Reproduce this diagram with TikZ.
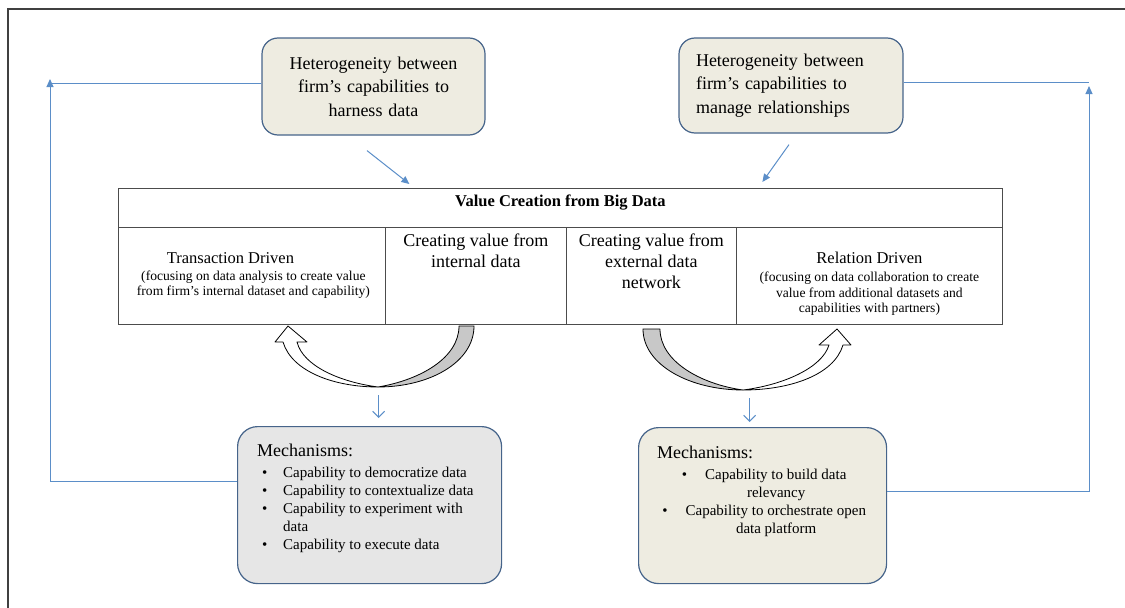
\documentclass[tikz,border=0pt]{standalone}
\usepackage{fontspec}
\setmainfont{Liberation Serif}
\usetikzlibrary{arrows.meta}

\definecolor{boxline}{RGB}{70,100,138}
\definecolor{hetfill}{RGB}{238,236,225}
\definecolor{mechgrey}{RGB}{230,230,230}
\definecolor{flowblue}{RGB}{91,142,200}
\definecolor{bandgrey}{RGB}{200,200,200}

\begin{document}
\begin{tikzpicture}[x=1pt,y=-1pt,
  hetbox/.style={draw=boxline,fill=hetfill,rounded corners=16pt,line width=1.2pt,
    inner sep=0pt,text width=190pt,font=\fontsize{18}{23.5}\selectfont},
  mechbox/.style={draw=boxline,rounded corners=20pt,line width=1.2pt,inner sep=0pt,anchor=north west},
  cell/.style={draw=black!70,line width=0.8pt,inner sep=0pt,anchor=north west},
  celltxt/.style={inner sep=0pt,anchor=north,align=center},
  link/.style={draw=flowblue,line width=1pt},
  solidhead/.style={-{Triangle[length=8pt,width=7pt]}},
  openhead/.style={-{Straight Barb[length=6pt,width=12pt]}},
  band/.style={draw=black,line width=0.8pt,line join=round}]
\useasboundingbox (0,0) rectangle (1125,608);

%Shape: Frame
\draw [line width=1.2pt,black!75] (8,608) -- (8,9) -- (1125,9) ;

%Shape: Rounded Rect [heterogeneity, data]
\node [hetbox,align=center,minimum width=223pt,minimum height=97pt] (hetL) at (373.5,86.5)
  {Heterogeneity between\\firm’s capabilities to\\harness data};
%Shape: Rounded Rect [heterogeneity, relationships]
\node [hetbox,align=left,minimum width=224pt,minimum height=95pt] (hetR) at (791,85.5)
  {Heterogeneity between\\firm’s capabilities to\\manage relationships};

%Shape: Table
\node [cell,minimum width=884pt,minimum height=39pt] (vcb) at (118,188) {};
\node [cell,minimum width=267pt,minimum height=97pt] (c1) at (118,227) {};
\node [cell,minimum width=181pt,minimum height=97pt] (c2) at (385,227) {};
\node [cell,minimum width=170pt,minimum height=97pt] (c3) at (566,227) {};
\node [cell,minimum width=266pt,minimum height=97pt] (c4) at (736,227) {};

% Text Node
\node [celltxt,font=\fontsize{16.5}{19}\selectfont\bfseries] (vcbtxt) at ([yshift=-6.2pt]vcb.north)
  {Value Creation from Big Data};
% Text Node
\node [celltxt,font=\fontsize{13.6}{15.5}\selectfont] (c1txt) at ([xshift=1.5pt,yshift=-25.2pt]c1.north)
  {{\fontsize{16.5}{19}\selectfont Transaction Driven\hspace*{46pt}}\\[1.5pt]
   (focusing on data analysis to create value\\from firm’s internal dataset and capability)};
% Text Node
\node [celltxt,font=\fontsize{18}{21}\selectfont] (c2txt) at ([yshift=-6.7pt]c2.north)
  {Creating value from\\internal data};
% Text Node
\node [celltxt,font=\fontsize{18}{21}\selectfont] (c3txt) at ([yshift=-6.7pt]c3.north)
  {Creating value from\\external data\\network};
% Text Node
\node [celltxt,font=\fontsize{13.6}{15.5}\selectfont] (c4txt) at ([yshift=-25.2pt]c4.north)
  {{\fontsize{16.5}{19}\selectfont Relation Driven}\\[2.5pt]
   (focusing on data collaboration to create\\value from additional datasets and\\capabilities with partners)};

%Shape: Rounded Rect [mechanisms, left]
\node [mechbox,fill=mechgrey,minimum width=264pt,minimum height=157pt] (mechL) at (237,426) {};
%Shape: Rounded Rect [mechanisms, right]
\node [mechbox,fill=hetfill,minimum width=248pt,minimum height=156pt] (mechR) at (638,427) {};

% Text Node
\node [inner sep=0pt,anchor=north west,align=left,font=\fontsize{15}{18}\selectfont] (mechLtxt)
  at ([xshift=20pt,yshift=-17.7pt]mechL.north west)
  {{\fontsize{18}{21}\selectfont Mechanisms:}\\[3pt]
   \makebox[26pt][l]{\hspace{5pt}\textbullet}Capability to democratize data\\
   \makebox[26pt][l]{\hspace{5pt}\textbullet}Capability to contextualize data\\
   \makebox[26pt][l]{\hspace{5pt}\textbullet}Capability to experiment with\\
   \hspace*{26pt}data\\
   \makebox[26pt][l]{\hspace{5pt}\textbullet}Capability to execute data};
% Text Node
\node [inner sep=0pt,anchor=north west,align=left,font=\fontsize{15}{18}\selectfont] (mechRtxt)
  at ([xshift=19pt,yshift=-18.7pt]mechR.north west)
  {{\fontsize{18}{21}\selectfont Mechanisms:}\\[3pt]
   \makebox[214pt][c]{\textbullet\hspace{18pt}Capability to build data}\\
   \makebox[214pt][c]{\hspace*{24pt}relevancy}\\
   \makebox[214pt][c]{\textbullet\hspace{18pt}Capability to orchestrate open}\\
   \makebox[214pt][c]{\hspace*{24pt}data platform}};

%Shape: Curved Arrow [left]
\filldraw [band,fill=bandgrey] (459,326) -- (474,326) .. controls (474,362) and (430,387) .. (378,387)
  .. controls (420,380) and (459,358) .. (459,326) -- cycle ;
\filldraw [band,fill=white] (283,342) .. controls (292,372) and (335,387) .. (378,387)
  .. controls (340,382) and (303,366) .. (297,342) -- (307,342) -- (288,326) -- (275,342) -- cycle ;
%Shape: Curved Arrow [right]
\filldraw [band,fill=bandgrey] (660,329) -- (643,329) .. controls (643,365) and (690,390) .. (743,390)
  .. controls (700,384) and (660,361) .. (660,329) -- cycle ;
\filldraw [band,fill=white] (843,345) .. controls (834,375) and (790,390) .. (743,390)
  .. controls (783,385) and (822,368) .. (829,345) -- (819,345) -- (837,329) -- (851,345) -- cycle ;

%Straight Lines [into table]
\draw [link,solidhead] ([xshift=-6.5pt,yshift=-15pt]hetL.south) -- ([xshift=-151pt,yshift=4pt]vcb.north) ;
\draw [link,solidhead] ([xshift=-2pt,yshift=-11pt]hetR.south) -- ([xshift=202pt,yshift=6pt]vcb.north) ;
%Straight Lines [down to mechanisms]
\draw [link,openhead] ([xshift=9pt,yshift=31pt]mechL.north) -- ([xshift=9pt,yshift=8pt]mechL.north) ;
\draw [link,openhead] ([xshift=-13pt,yshift=29pt]mechR.north) -- ([xshift=-13pt,yshift=5pt]mechR.north) ;

%Straight Lines [feedback, left]
\coordinate (fbL) at (50,83);
\draw [link] ([yshift=3.5pt]hetL.west) -- (fbL) ;
\draw [link,solidhead] ([yshift=23.5pt]mechL.west) -| ([yshift=4pt]fbL) ;
%Straight Lines [feedback, right]
\coordinate (fbR) at (1089,82);
\draw [link] ([yshift=3.5pt]hetR.east) -- (fbR) ;
\draw [link,solidhead] ([yshift=14pt]mechR.east) -| ([yshift=-4pt]fbR) ;

\end{tikzpicture}
\end{document}
